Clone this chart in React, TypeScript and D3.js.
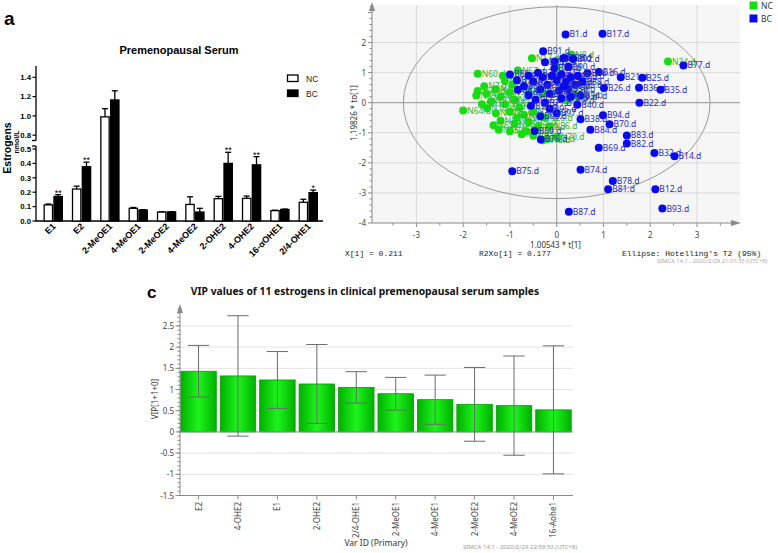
import React from 'react';
import * as d3 from 'd3';

// ---- panel a: premenopausal serum estrogens (nmol/L)
const estrogens = ['E1', 'E2', '2-MeOE1', '4-MeOE1', '2-MeOE2', '4-MeOE2', '2-OHE2', '4-OHE2', '16-αOHE1', '2/4-OHE1'];
const ncMean = [0.112, 0.222, 0.99, 0.088, 0.062, 0.115, 0.155, 0.157, 0.072, 0.13];
const ncErr = [0.006, 0.02, 0.085, 0.006, 0.002, 0.053, 0.016, 0.016, 0.003, 0.021];
const bcMean = [0.17, 0.377, 1.165, 0.076, 0.063, 0.062, 0.4, 0.39, 0.08, 0.197];
const bcErr = [0.013, 0.032, 0.095, 0.003, 0.002, 0.026, 0.077, 0.057, 0.003, 0.018];
const bcStars = ['**', '**', '', '', '', '', '**', '**', '', '*'];
const groups = ['NC', 'BC'];
const lowTicks = [0, 0.1, 0.2, 0.3, 0.4, 0.5];
const highTicks = [0.8, 1.0, 1.2, 1.4];

// ---- panel b: OPLS-DA scores  [label, t[1], to[1]]
const ncScores: [string, number, number][] = [
  ['N8.d', 0.31, 1.6], ['N34.d', 2.38, 1.37], ['N17.d', -0.53, 1.48], ['N2.d', 0.0, 1.18],
  ['N60.d', -1.69, 0.96], ['N67.d', -0.83, 1.07], ['N71.d', -1.69, 0.39], ['N64.d', -2.0, -0.26],
  ['N10.d', -1.49, -0.18], ['N65.d', -1.24, -0.9], ['N56.d', -0.15, -0.79], ['N72.d', -0.2, -1.2],
  ['N3.d', -1.11, 0.72], ['N55.d', -1.72, 0.24], ['N12.d', -1.5, 0.3], ['N44.d', -1.3, 0.45],
  ['N21.d', -1.2, 0.2], ['N38.d', -1.0, 0.35], ['N9.d', -0.9, 0.1], ['N27.d', -1.4, 0.05],
  ['N15.d', -1.1, -0.05], ['N31.d', -0.8, -0.15], ['N49.d', -1.3, -0.35], ['N6.d', -1.0, -0.3],
  ['N42.d', -0.7, -0.4], ['N58.d', -1.2, -0.6], ['N23.d', -0.9, -0.7], ['N19.d', -0.6, -0.65],
  ['N5.d', -1.0, -0.95], ['N47.d', -0.75, -1.05], ['N33.d', -0.5, -1.1], ['N29.d', -0.4, -0.8],
  ['N13.d', -0.3, -1.25], ['N70.d', 0.0, -1.15], ['N40.d', -0.6, 0.35], ['N25.d', -0.5, -0.3],
  ['N52.d', -0.3, 0.3], ['N36.d', 0.1, 0.5], ['N18.d', 0.21, 0.07], ['N7.d', -1.55, 0.55],
  ['N50.d', -0.95, 0.6], ['N30.d', 0.4, 0.25], ['N4.d', -1.6, -0.05], ['N45.d', -0.85, -0.5],
  ['N26.d', -0.25, -0.5], ['N62.d', -1.35, -0.75], ['N39.d', -0.65, -0.95], ['N14.d', -1.15, 0.9],
];
const bcScores: [string, number, number][] = [
  ['B1.d', 0.19, 2.27], ['B17.d', 0.98, 2.29], ['B91.d', -0.29, 1.71], ['B68.d', 0.17, 1.49],
  ['B3.d', -0.04, 1.37], ['B5.d', 0.14, 1.48], ['B77.d', 2.71, 1.24], ['B16.d', 0.9, 1.02],
  ['B46.d', 0.66, 0.98], ['B21.d', 1.37, 0.85], ['B25.d', 1.83, 0.83], ['B26.d', 1.01, 0.49],
  ['B36.d', 1.76, 0.5], ['B35.d', 2.22, 0.43], ['B34.d', 0.51, 0.24], ['B40.d', 0.44, -0.07],
  ['B22.d', 1.77, 0.0], ['B94.d', 0.99, -0.42], ['B38.d', 0.51, -0.55], ['B70.d', 1.13, -0.72],
  ['B84.d', 0.72, -0.9], ['B83.d', 1.5, -1.09], ['B82.d', 1.5, -1.36], ['B69.d', 0.9, -1.5],
  ['B32.d', 2.09, -1.67], ['B14.d', 2.52, -1.78], ['B74.d', 0.51, -2.23], ['B78.d', 1.2, -2.6],
  ['B81.d', 1.1, -2.88], ['B12.d', 2.11, -2.88], ['B87.d', 0.26, -3.63], ['B93.d', 2.26, -3.52],
  ['B75.d', -0.95, -2.28], ['B76.d', -0.34, -1.22], ['B59.d', -0.47, -0.94], ['B86.d', -1.0, 0.94],
  ['B8.d', -0.83, 0.43], ['B11.d', -0.85, 0.75], ['B19.d', -0.6, 0.9], ['B23.d', -0.5, 0.7],
  ['B28.d', -0.4, 1.0], ['B30.d', -0.3, 0.85], ['B33.d', -0.2, 0.6], ['B37.d', -0.1, 0.9],
  ['B41.d', 0.0, 0.75], ['B43.d', 0.1, 0.95], ['B47.d', 0.2, 0.7], ['B50.d', 0.3, 0.85],
  ['B52.d', 0.4, 0.6], ['B55.d', 0.25, 0.45], ['B57.d', 0.05, 0.4], ['B60.d', -0.15, 0.3],
  ['B62.d', -0.35, 0.45], ['B64.d', -0.6, 0.25], ['B66.d', -0.45, 0.1], ['B71.d', -0.25, 0.0],
  ['B73.d', 0.1, 0.15], ['B79.d', 0.3, 0.2], ['B80.d', -0.7, 0.55], ['B85.d', 0.45, 0.9],
  ['B88.d', 0.55, 0.7], ['B89.d', -0.05, 1.15], ['B90.d', 0.25, 1.2], ['B92.d', 0.35, 1.45],
  ['B95.d', -0.15, -0.2], ['B96.d', -0.55, -0.1], ['B97.d', 0.0, -0.35], ['B98.d', -0.35, -0.45],
  ['B99.d', 0.15, 0.55], ['B2.d', -0.25, 1.35],
];
const tTicks = [-3, -2, -1, 0, 1, 2, 3];
const toTicks = [-4, -3, -2, -1, 0, 1, 2];

// ---- panel c: VIP values
const vipVars = ['E2', '4-OHE2', 'E1', '2-OHE2', '2/4-OHE1', '2-MeOE1', '4-MeOE1', '2-MeOE2', '4-MeOE2', '16-Aohe1'];
const vipValues = [1.43, 1.32, 1.225, 1.13, 1.05, 0.9, 0.76, 0.65, 0.62, 0.52];
const vipErr = [0.61, 1.42, 0.67, 0.93, 0.37, 0.385, 0.58, 0.87, 1.17, 1.51];
const vipTicks = [-1.5, -1, -0.5, 0, 0.5, 1, 1.5, 2, 2.5];

function PanelA() {
  const axisX = 36;
  const yLow = d3.scaleLinear().domain([0, 0.5]).range([221, 149]);
  const yHigh = d3.scaleLinear().domain([0.75, 1.4]).range([140, 77.3]);
  const yAt = (v: number) => (v <= 0.5 ? yLow(v) : yHigh(v));
  const x = d3.scaleBand().domain(estrogens).range([38.5, 323]).paddingInner(0.36).paddingOuter(0.2);
  const xs = d3.scaleBand().domain(groups).range([0, x.bandwidth()]).paddingInner(0.15);
  const rows = estrogens.map((c, i) => [
    { c, g: 'NC', m: ncMean[i], e: ncErr[i], s: '' },
    { c, g: 'BC', m: bcMean[i], e: bcErr[i], s: bcStars[i] },
  ]).flat();

  return (
    <g fontFamily="'Liberation Sans', Arial, sans-serif">
      <text x={4} y={25} fontSize={19} fontWeight="bold">a</text>
      <text x={179} y={54} fontSize={11} fontWeight="bold" textAnchor="middle">Premenopausal Serum</text>
      <text transform="translate(11,148) rotate(-90)" fontSize={10.5} fontWeight="bold" textAnchor="middle">Estrogens</text>
      <text transform="translate(18.5,142) rotate(-90)" fontSize={7} fontWeight="bold" textAnchor="middle">nmol/L</text>

      {/* broken y axis */}
      <line x1={axisX} x2={axisX} y1={66} y2={140.5} stroke="#000" strokeWidth={1.3} />
      <line x1={axisX} x2={axisX} y1={146} y2={221.6} stroke="#000" strokeWidth={1.3} />
      <line x1={axisX - 4} x2={axisX} y1={140.5} y2={140.5} stroke="#000" strokeWidth={1.3} />
      <line x1={axisX - 4} x2={axisX} y1={146} y2={146} stroke="#000" strokeWidth={1.3} />
      {highTicks.map(t => (
        <g key={'h' + t}>
          <line x1={axisX - 3.5} x2={axisX} y1={yHigh(t)} y2={yHigh(t)} stroke="#000" strokeWidth={1.2} />
          <text x={axisX - 5} y={yHigh(t) + 2.8} fontSize={7.8} fontWeight="bold" textAnchor="end">{t.toFixed(1)}</text>
        </g>
      ))}
      {lowTicks.map(t => (
        <g key={'l' + t}>
          <line x1={axisX - 3.5} x2={axisX} y1={yLow(t)} y2={yLow(t)} stroke="#000" strokeWidth={1.2} />
          <text x={axisX - 5} y={yLow(t) + 2.8} fontSize={7.8} fontWeight="bold" textAnchor="end">{t.toFixed(1)}</text>
        </g>
      ))}
      <line x1={axisX} x2={323} y1={221} y2={221} stroke="#000" strokeWidth={1.3} />

      {/* bars */}
      {rows.map(r => {
        const bx = (x(r.c) ?? 0) + (xs(r.g) ?? 0);
        const bw = xs.bandwidth();
        const top = yAt(r.m);
        const cap = yAt(r.m + r.e);
        const cx = bx + bw / 2;
        return (
          <g key={r.c + r.g}>
            <line x1={cx} x2={cx} y1={top} y2={cap} stroke="#000" strokeWidth={1.3} />
            <line x1={cx - 3} x2={cx + 3} y1={cap} y2={cap} stroke="#000" strokeWidth={1.3} />
            <rect x={bx} y={top} width={bw} height={yLow(0) - top} fill={r.g === 'NC' ? '#fff' : '#000'} stroke="#000" strokeWidth={1.3} />
            {r.s && <text x={cx} y={cap + 1} fontSize={9} textAnchor="middle">{r.s}</text>}
          </g>
        );
      })}

      {/* category labels */}
      {estrogens.map(c => {
        const cx = (x(c) ?? 0) + x.bandwidth() / 2 + 3;
        return (
          <text key={c} transform={`translate(${cx},227) rotate(-45)`} fontSize={9} fontWeight="bold" textAnchor="end">{c}</text>
        );
      })}

      {/* legend */}
      <rect x={287.5} y={75} width={10.5} height={6.5} fill="#fff" stroke="#000" strokeWidth={1.3} />
      <text x={306} y={81.5} fontSize={8.5} fill="#222">NC</text>
      <rect x={287.5} y={90} width={10.5} height={6.5} fill="#000" stroke="#000" strokeWidth={1.3} />
      <text x={306} y={96.5} fontSize={8.5} fill="#222">BC</text>
    </g>
  );
}

function PanelB() {
  const x = d3.scaleLinear().domain([-3.95, 3.92]).range([372, 740]);
  const y = d3.scaleLinear().domain([-4, 3.25]).range([223, 5]);
  const rx = x(3.28) - x(0);
  const ry = y(0) - y(3.19);
  const minorX = d3.range(-3.5, 3.51, 0.5);
  const minorY = d3.range(-4, 3.21, 0.2);
  const green = '#16dc16';
  const blue = '#0a0aef';
  const font = "'Noto Sans', 'Open Sans', sans-serif";

  return (
    <g fontFamily={font}>
      <text x={380} y={24} fontSize={19} fontWeight="bold" fontFamily="'Liberation Sans', Arial, sans-serif">b</text>
      <rect x={372} y={5} width={368} height={218} fill="#f5f5f5" />
      {tTicks.map(t => (
        <line key={'gx' + t} x1={x(t)} x2={x(t)} y1={5} y2={223} stroke={t === 0 ? '#a8a8a8' : '#dadada'} strokeWidth={t === 0 ? 1.2 : 1} />
      ))}
      {toTicks.filter(t => t > -4).map(t => (
        <line key={'gy' + t} x1={372} x2={740} y1={y(t)} y2={y(t)} stroke={t === 0 ? '#a8a8a8' : '#dadada'} strokeWidth={t === 0 ? 1.2 : 1} />
      ))}
      <ellipse cx={x(0)} cy={y(0)} rx={rx} ry={ry} fill="none" stroke="#9a9a9a" strokeWidth={1} />

      {/* axes */}
      <line x1={372} x2={736} y1={223} y2={223} stroke="#8a8a8a" />
      <path d="M731,220 L741,223 L731,226 Z" fill="#8a8a8a" />
      <line x1={372} x2={372} y1={9} y2={223} stroke="#8a8a8a" />
      <path d="M369,11 L372,2 L375,11 Z" fill="#8a8a8a" />
      {minorX.map(t => (
        <line key={'mx' + t} x1={x(t)} x2={x(t)} y1={223} y2={Number.isInteger(t) ? 227 : 225.5} stroke="#8a8a8a" />
      ))}
      {minorY.map(t => (
        <line key={'my' + t.toFixed(1)} x1={Math.abs(t - Math.round(t)) < 1e-6 ? 368 : 369.5} x2={372} y1={y(t)} y2={y(t)} stroke="#8a8a8a" />
      ))}
      {tTicks.map(t => (
        <text key={'tx' + t} x={x(t)} y={238} fontSize={8} fill="#444" textAnchor="middle">{t}</text>
      ))}
      {toTicks.map(t => (
        <text key={'ty' + t} x={366} y={y(t) + 3} fontSize={8} fill="#444" textAnchor="end">{t}</text>
      ))}
      <text x={581} y={248} fontSize={8} fill="#333" textAnchor="end">1.00543 * t[1]</text>
      <text transform="translate(357,113) rotate(-90)" fontSize={8} fill="#333" textAnchor="middle">1.19826 * to[1]</text>

      {/* scores */}
      {ncScores.map(([l, t, o]) => (
        <g key={l}>
          <circle cx={x(t)} cy={y(o)} r={4} fill={green} />
          <text x={x(t) + 4} y={y(o) + 3} fontSize={8.5} fill="#2fb52f">{l}</text>
        </g>
      ))}
      {bcScores.map(([l, t, o]) => (
        <g key={l}>
          <circle cx={x(t)} cy={y(o)} r={4} fill={blue} />
          <text x={x(t) + 4} y={y(o) + 3} fontSize={8.5} fill="#2b2bc4">{l}</text>
        </g>
      ))}

      {/* legend */}
      <rect x={749.5} y={1.5} width={8} height={8} fill={green} />
      <text x={761} y={8.5} fontSize={8.5} fill="#333">NC</text>
      <rect x={749.5} y={14.5} width={8} height={8} fill={blue} />
      <text x={761} y={21.5} fontSize={8.5} fill="#333">BC</text>

      <g fontFamily="'Liberation Mono', 'DejaVu Sans Mono', monospace" fontSize={8} fill="#222">
        <text x={345} y={256}>X[1] = 0.211</text>
        <text x={479} y={256}>R2Xo[1] = 0.177</text>
        <text x={622} y={256}>Ellipse: Hotelling's T2 (95%)</text>
      </g>
      <text x={657} y={263} fontSize={5.8} fill="#aaa">SIMCA 14.1 - 2020/2/29 21:01:35 (UTC+8)</text>
    </g>
  );
}

function PanelC() {
  const y = d3.scaleLinear().domain([-1.5, 3]).range([495.5, 304.7]);
  const x = d3.scaleBand().domain(vipVars).range([180, 572]).paddingInner(0.1).paddingOuter(0.02);
  const minor = d3.range(-1.5, 2.91, 0.1);
  const font = "'Noto Sans', 'Open Sans', sans-serif";
  const capW = x.bandwidth() * 0.6;

  return (
    <g fontFamily={font}>
      <defs>
        <linearGradient id="vipGreen" x1="0" x2="1" y1="0" y2="0">
          <stop offset="0" stopColor="#00b000" />
          <stop offset="0.5" stopColor="#1cf51c" />
          <stop offset="1" stopColor="#00b000" />
        </linearGradient>
      </defs>
      <text x={147} y={298} fontSize={17} fontWeight="bold" fontFamily="'Liberation Sans', Arial, sans-serif">c</text>
      <text x={365} y={295} fontSize={10.3} fontWeight="bold" textAnchor="middle" fill="#111">VIP values of 11 estrogens in clinical premenopausal serum samples</text>

      {vipTicks.filter(t => t !== 0 && t !== -1.5).map(t => (
        <line key={'g' + t} x1={180} x2={573} y1={y(t)} y2={y(t)} stroke="#e3e3e3" strokeWidth={1} />
      ))}

      {/* bars */}
      {vipVars.map((v, i) => (
        <rect key={v} x={x(v)} y={y(vipValues[i])} width={x.bandwidth()} height={y(0) - y(vipValues[i])} fill="url(#vipGreen)" stroke="#00a000" strokeWidth={0.8} />
      ))}
      <line x1={180} x2={573} y1={y(0)} y2={y(0)} stroke="#8a8a8a" />
      {vipVars.map((v, i) => {
        const cx = (x(v) ?? 0) + x.bandwidth() / 2;
        const hi = y(vipValues[i] + vipErr[i]);
        const lo = y(vipValues[i] - vipErr[i]);
        return (
          <g key={'e' + v} stroke="#6a6a6a" strokeWidth={1}>
            <line x1={cx} x2={cx} y1={hi} y2={lo} />
            <line x1={cx - capW / 2} x2={cx + capW / 2} y1={hi} y2={hi} />
            <line x1={cx - capW / 2} x2={cx + capW / 2} y1={lo} y2={lo} />
          </g>
        );
      })}

      {/* axes */}
      <line x1={180} x2={180} y1={312} y2={495.5} stroke="#8a8a8a" />
      <path d="M177,313 L180,304 L183,313 Z" fill="#8a8a8a" />
      <line x1={180} x2={573} y1={495.5} y2={495.5} stroke="#8a8a8a" />
      {minor.map(t => (
        <line key={'m' + t.toFixed(1)} x1={177.5} x2={180} y1={y(t)} y2={y(t)} stroke="#8a8a8a" />
      ))}
      {vipTicks.map(t => (
        <g key={'t' + t}>
          <line x1={175.5} x2={180} y1={y(t)} y2={y(t)} stroke="#8a8a8a" />
          <text x={174} y={y(t) + 3} fontSize={8} fill="#444" textAnchor="end">{t}</text>
        </g>
      ))}
      {vipVars.map(v => {
        const cx = (x(v) ?? 0) + x.bandwidth() / 2;
        return (
          <g key={'x' + v}>
            <line x1={cx} x2={cx} y1={495.5} y2={499.5} stroke="#8a8a8a" />
            <text transform={`translate(${cx + 3},502) rotate(-90)`} fontSize={8} fill="#444" textAnchor="end">{v}</text>
          </g>
        );
      })}
      <text x={376} y={546} fontSize={8.5} fill="#333" textAnchor="middle">Var ID (Primary)</text>
      <text transform="translate(158,399) rotate(-90)" fontSize={8} fill="#333" textAnchor="middle">VIP[1+1+0]</text>
      <text x={463} y={549} fontSize={6} fill="#999">SIMCA 14.1 - 2020/2/29 22:59:53 (UTC+8)</text>
    </g>
  );
}

export default function App() {
  return (
    <svg width={778} height={553} style={{ position: 'absolute', left: 0, top: 0, background: '#fff' }}>
      <PanelA />
      <PanelB />
      <PanelC />
    </svg>
  );
}
